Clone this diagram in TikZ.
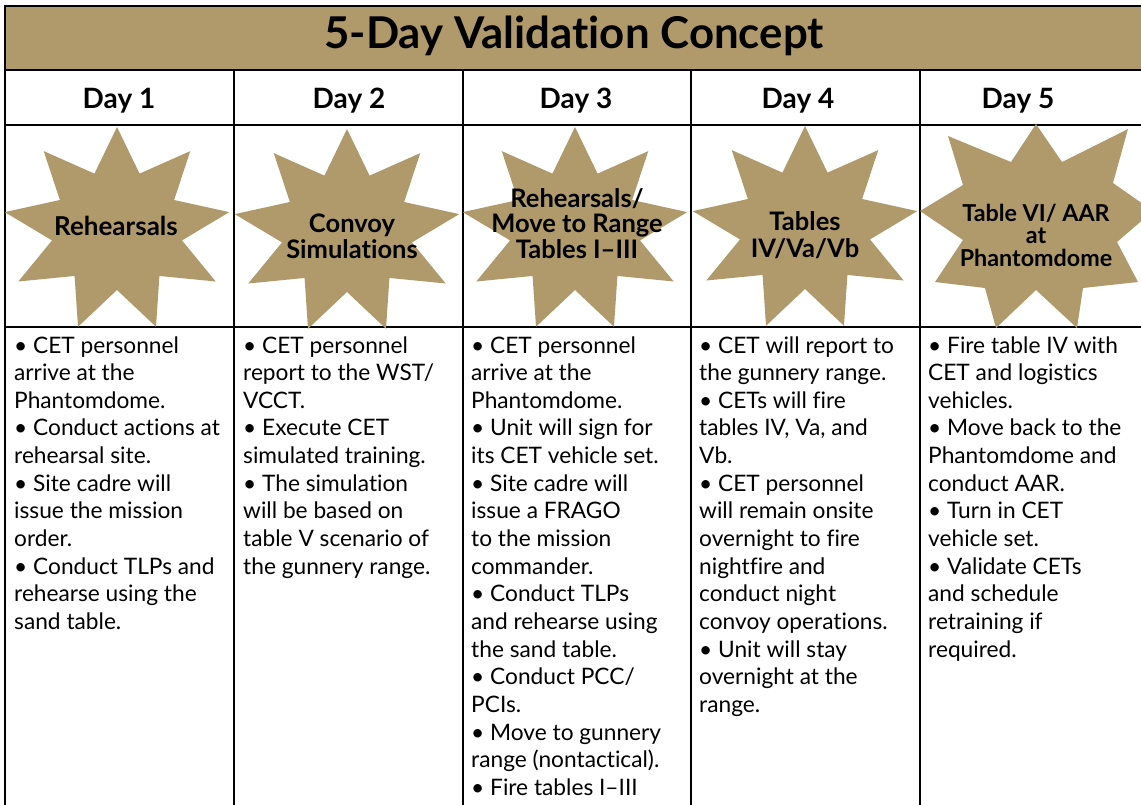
\documentclass[tikz,border=0pt]{standalone}
\usepackage{fontspec}
\setmainfont[Ligatures=NoCommon]{Lato}
\definecolor{gold}{RGB}{176,154,108}
\tikzset{
  rule/.style={line width=2pt, black},
  body/.style={anchor=base west, inner sep=0pt},
  daylbl/.style={anchor=base, inner sep=0pt, font=\bfseries\fontsize{28}{30}\selectfont},
  starlbl/.style={anchor=base, inner sep=0pt},
}
\newcommand\bodytext[1]{\parbox[t]{225pt}{\raggedright\fontsize{22.7}{27.65}\selectfont #1}}
\newcommand\startext[2]{\parbox[t]{220pt}{\centering\bfseries\fontsize{#1}{#1}\selectfont #2}}
\newcommand\gstar[2]{%
  \fill[gold, shift={(#1,#2)}] (-90:114 and 103)
    \foreach \k in {0,...,8}{ -- ({-90+40*\k}:114 and 103) -- ({-70+40*\k}:66 and 60)} -- cycle;}
\begin{document}
\begin{tikzpicture}[x=1pt, y=-1pt]
\useasboundingbox (0,0) rectangle (1141,804);
\clip (0,0) rectangle (1141,804);
% title bar
\fill[gold] (5,6) rectangle (1160,70);
% grid
\draw[rule] (1160,6) -- (5,6) -- (5,810);
\draw[rule] (5,70) -- (1160,70);
\draw[rule] (5,125) -- (1160,125);
\draw[rule] (5,327) -- (1160,327);
\foreach \x in {234,463,691,919.5} \draw[rule] (\x,70) -- (\x,810);
% stars
\gstar{117}{230}
\gstar{347}{232}
\gstar{575}{230}
\gstar{805}{229}
\fill[gold] (1036,124) -- (1011,162) -- (948,136) -- (963,185) -- (920,211) -- (963,240)
  -- (935,282) -- (985,288) -- (996,328) -- (1036,290) -- (1077,328) -- (1083,288)
  -- (1138,282) -- (1117,242) -- (1153,211) -- (1113,183) -- (1128,129) -- (1062,162) -- cycle;
% title
\node[anchor=base, inner sep=0pt, font=\bfseries\fontsize{43.8}{46}\selectfont] (title) at (574,48) {5-Day Validation Concept};
% day headers
\node[daylbl] (d1) at (119,108) {Day 1};
\node[daylbl] (d2) at (349,108) {Day 2};
\node[daylbl] (d3) at (576,108) {Day 3};
\node[daylbl] (d4) at (798,108) {Day 4};
\node[daylbl] (d5) at (1018,108) {Day 5};
% star labels
\node[starlbl] (s1) at (116,235) {\startext{26}{Rehearsals}};
\node[starlbl] (s2) at (352,232) {\startext{25.5}{Convoy\\[1pt]Simulations}};
\node[starlbl] (s3) at (577,207) {\startext{25.5}{Rehearsals/\\[0pt]Move to Range\\[0.5pt]Tables I--III}};
\node[starlbl] (s4) at (805,230) {\startext{25.5}{Tables\\[1.5pt]IV/Va/Vb}};
\node[starlbl] (s5) at (1036,221) {\startext{23.3}{Table VI/ AAR\\[-0.8pt]at\\[-0.8pt]Phantomdome}};
% body text
\node[body] (t1) at (14,353) {\bodytext{• CET personnel\\arrive at the\\Phantomdome.\\• Conduct actions at\\rehearsal site.\\• Site cadre will\\issue the mission\\order.\\• Conduct TLPs and\\rehearse using the\\sand table.}};
\node[body] (t2) at (243,353) {\bodytext{• CET personnel\\report to the WST/\\VCCT.\\• Execute CET\\simulated training.\\• The simulation\\will be based on\\table V scenario of\\the gunnery range.}};
\node[body] (t3) at (471,353) {\bodytext{• CET personnel\\arrive at the\\Phantomdome.\\• Unit will sign for\\its CET vehicle set.\\• Site cadre will\\issue a FRAGO\\to the mission\\commander.\\• Conduct TLPs\\and rehearse using\\the sand table.\\• Conduct PCC/\\PCIs.\\• Move to gunnery\\range (nontactical).\\• Fire tables I--III}};
\node[body] (t4) at (699,353) {\bodytext{• CET will report to\\the gunnery range.\\• CETs will fire\\tables IV, Va, and\\Vb.\\• CET personnel\\will remain onsite\\overnight to fire\\nightfire and\\conduct night\\convoy operations.\\• Unit will stay\\overnight at the\\range.}};
\node[body] (t5) at (928,353) {\bodytext{• Fire table IV with\\CET and logistics\\vehicles.\\• Move back to the\\Phantomdome and\\conduct AAR.\\• Turn in CET\\vehicle set.\\• Validate CETs\\and schedule\\retraining if\\required.}};
\end{tikzpicture}
\end{document}
